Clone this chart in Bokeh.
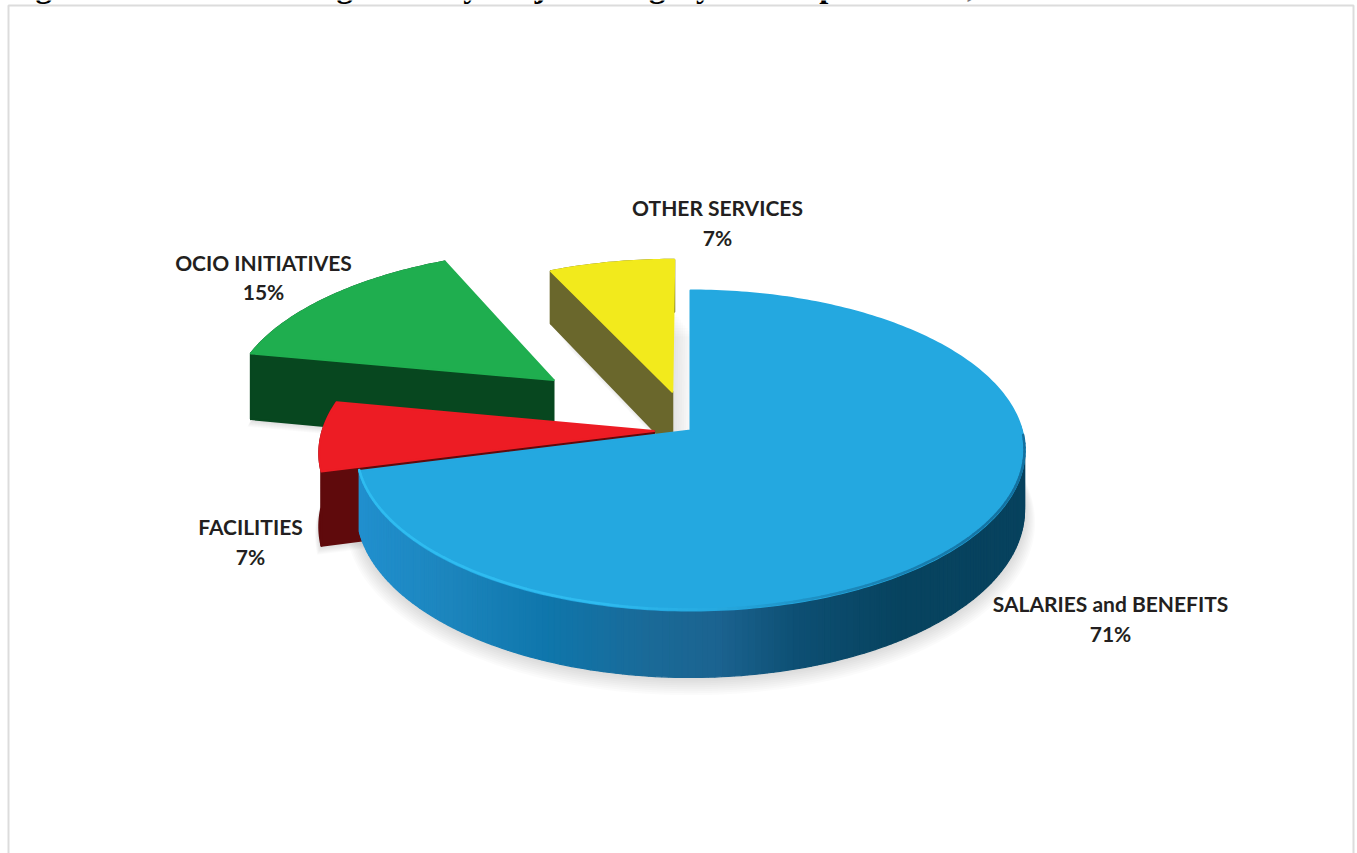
import math
from bokeh.plotting import figure
from bokeh.embed import file_html
from bokeh.resources import INLINE
from bokeh.core.properties import value

# ---- data ----
categories = ["SALARIES and BENEFITS", "FACILITIES", "OCIO INITIATIVES", "OTHER SERVICES"]
shares = [71, 7, 15, 7]
percent_labels = ["71%", "7%", "15%", "7%"]
title_text = "Figure 2: OCIO IT Budget Use by Major Category and Expenditures, "

# ---- styles and layout ----
top_colors = ["#24a8e0", "#ed1c24", "#1fae4f", "#f2ea1c"]
side_colors = ["#0a4a6c", "#5f0a0c", "#07471f", "#6a672c"]
explode = [0.0, 0.11, 0.545, 0.26]
slice_depth = [58.6, 72.0, 70.0, 60.0]
label_pos = [(1110, 603, 633), (250, 526, 556), (263, 262, 291), (717, 207, 237)]
shadow_shift = [(0, 1.3), (0.2, 0.9), (0.2, 0.9), (2.2, 3.0)]
CX, CY, W, H, K = 690.0, 430.0, 331.4, 157.5, 0.125
wall_stops = [(355, "#2190cf"), (450, "#1c85bd"), (550, "#0f76ab"), (650, "#1a6a98"),
              (720, "#1b6390"), (800, "#0d4f73"), (900, "#07435f"), (1030, "#07425e")]
rim_stops = [(355, "#2fbcf0"), (600, "#2fbcf0"), (720, "#26a9e0"), (860, "#1b86b8"), (1030, "#136f9e")]


def rgb(h):
    return tuple(int(h[i:i + 2], 16) for i in (1, 3, 5))


def ramp(stops, x):
    if x <= stops[0][0]:
        return stops[0][1]
    for (x0, c0), (x1, c1) in zip(stops, stops[1:]):
        if x <= x1:
            t = (x - x0) / (x1 - x0)
            a, b = rgb(c0), rgb(c1)
            return "#%02x%02x%02x" % tuple(round(a[i] + (b[i] - a[i]) * t) for i in range(3))
    return stops[-1][1]


def project(u, v, z=0.0):
    w = 1 + K * v
    return CX + W * u / w, CY - H * v / w + z / w


def rim(theta, du, dv, z=0.0):
    t = math.radians(theta)
    return project(math.sin(t) + du, math.cos(t) + dv, z)


def sweep(a, b, step=1.0):
    n = max(2, int(abs(b - a) / step) + 1)
    return [a + (b - a) * i / (n - 1) for i in range(n)]


def xy(points):
    return [q[0] for q in points], [q[1] for q in points]


p = figure(width=1357, height=853, x_range=(0, 1357), y_range=(853, 0),
           output_backend="svg", toolbar_location=None, min_border=0,
           outline_line_color=None)
p.axis.visible = False
p.grid.visible = False
p.background_fill_color = "white"
p.border_fill_color = "white"

# page frame and clipped caption
p.line([8, 8, 1353, 1353], [860, 5, 5, 860], line_color="#dcdcdc", line_width=2)
p.text([6], [-15], text=[title_text], text_font=value("Liberation Serif"), text_font_size="32.6px",
       text_font_style="bold", text_color="#000000", text_baseline="alphabetic")

total = sum(shares)
starts = [sum(shares[:i]) * 360.0 / total for i in range(len(shares))]
ends = [sum(shares[:i + 1]) * 360.0 / total for i in range(len(shares))]
geom = []
for a, b, d in zip(starts, ends, explode):
    mid = math.radians((a + b) / 2)
    geom.append((a, b, d * math.sin(mid), d * math.cos(mid)))

# soft shadows first
for idx in [3, 2, 1, 0]:
    a, b, du, dv = geom[idx]
    dz = slice_depth[idx]
    low = [project(du, dv, dz)] + [rim(t, du, dv, dz) for t in sweep(a, b)]
    sx, sy = shadow_shift[idx]
    alpha = 0.018 if idx == 3 else 0.03
    for i in range(1, 10):
        f = 1 + (0.0035 * i if idx == 0 else 0.002 * i)
        cx0, cy0 = project(du, dv, dz)
        xs = [cx0 + (q[0] - cx0) * f + sx * i for q in low]
        ys = [cy0 + (q[1] - cy0) * f + sy * i for q in low]
        p.patch(xs, ys, fill_color="#707070", fill_alpha=alpha, line_color=None)

# yellow, green, red, then blue so nearer slices cover farther ones
for idx in [3, 2, 1, 0]:
    a, b, du, dv = geom[idx]
    dz = slice_depth[idx]
    apex_t, apex_b = project(du, dv), project(du, dv, dz)
    if idx == 0:
        angles = sweep(max(a, 88.0), b, 1.0)
        for t0, t1 in zip(angles, angles[1:]):
            quad = [rim(t0, du, dv), rim(t1, du, dv), rim(t1, du, dv, dz), rim(t0, du, dv, dz)]
            col = ramp(wall_stops, quad[0][0])
            xs, ys = xy(quad)
            p.patch(xs, ys, fill_color=col, line_color=col, line_width=1.2)
    else:
        # outer wall, then the cut face that looks towards the viewer
        arc_t = [rim(t, du, dv) for t in sweep(a, b)]
        arc_b = [rim(t, du, dv, dz) for t in sweep(a, b)]
        xs, ys = xy(arc_t + arc_b[::-1])
        p.patch(xs, ys, fill_color=side_colors[idx], line_color=side_colors[idx],
                line_width=2, line_join="round")
        xs, ys = xy([apex_t, rim(a, du, dv), rim(a, du, dv, dz), apex_b])
        p.patch(xs, ys, fill_color=side_colors[idx], line_color=side_colors[idx],
                line_width=2, line_join="round")
    xs, ys = xy([apex_t] + [rim(t, du, dv) for t in sweep(a, b)])
    p.patch(xs, ys, fill_color=top_colors[idx], line_color=top_colors[idx],
            line_width=2, line_join="round")

# bevel along the front rim of the largest slice
a, b, du, dv = geom[0]
angles = sweep(max(a, 92.0), b, 1.5)
seg_x, seg_y, seg_c = [], [], []
for t0, t1 in zip(angles, angles[1:]):
    q0, q1 = rim(t0, du, dv), rim(t1, du, dv)
    seg_x.append([q0[0], q1[0]])
    seg_y.append([q0[1] - 1, q1[1] - 1])
    seg_c.append(ramp(rim_stops, q0[0]))
p.multi_line(seg_x, seg_y, line_color=seg_c, line_width=2.5, line_cap="round")

# labels
for name, pct, (lx, y1, y2) in zip(categories, percent_labels, label_pos):
    for txt, ly in ((name, y1), (pct, y2)):
        p.text([lx], [ly], text=[txt], text_font=value("Lato"), text_font_size="21px",
               text_font_style="bold", text_color="#231f20",
               text_align="center", text_baseline="middle")

open("out.html", "w").write(file_html(p, INLINE))
